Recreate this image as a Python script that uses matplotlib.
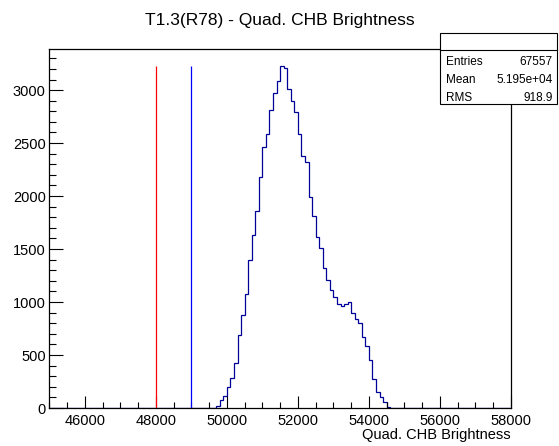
import numpy as np
import matplotlib
matplotlib.use("Agg")
import matplotlib.pyplot as plt
from matplotlib.patches import Rectangle
from matplotlib.ticker import MultipleLocator

plt.rcParams['font.family'] = ['Liberation Sans', 'DejaVu Sans']

# histogram: 100-wide bins from 45000 to 58000, non-empty part starts at 49600
x_min, x_max, bin_width = 45000, 58000, 100
first_bin = 49600
counts = [3, 22, 75, 116, 201, 286, 427, 689, 877, 1073,
          1396, 1635, 1862, 2176, 2465, 2585, 2811, 2975, 3088, 3224,
          3206, 3006, 2899, 2796, 2585, 2377, 2324, 1994, 1808, 1616,
          1512, 1324, 1208, 1113, 1044, 978, 965, 978, 1001, 893,
          842, 799, 673, 585, 453, 271, 154, 107, 60, 13, 3]

cut_red = 48000
cut_blue = 49000

title = "T1.3(R78) - Quad. CHB Brightness"
xlabel = "Quad. CHB Brightness"
stats_names = ["Entries", "Mean", "RMS"]
stats_values = ["67557", "5.195e+04", "918.9"]

edges = np.arange(x_min, x_max + bin_width, bin_width)
values = np.zeros(len(edges) - 1)
i0 = (first_bin - x_min) // bin_width
values[i0:i0 + len(counts)] = counts
hmax = max(counts)

fig = plt.figure(figsize=(5.59, 4.46), dpi=100)
ax = fig.add_axes([0.0882, 0.0852, 0.9141 - 0.0882, 0.8895 - 0.0852])

ax.stairs(values, edges, color='#000099', lw=0.9)
ax.vlines(cut_red, 0, hmax, color='#ff0000', lw=0.9)
ax.vlines(cut_blue, 0, hmax, color='#0000ff', lw=0.9)

ax.set_xlim(x_min, x_max)
ax.set_ylim(0, hmax * 1.05)

ax.xaxis.set_major_locator(MultipleLocator(2000))
ax.xaxis.set_minor_locator(MultipleLocator(500))
ax.yaxis.set_major_locator(MultipleLocator(500))
ax.yaxis.set_minor_locator(MultipleLocator(100))
ax.tick_params(axis='both', which='both', direction='in', top=False, right=False,
               width=0.8, labelsize=10.5)
ax.tick_params(axis='y', which='major', length=10, pad=2.5)
ax.tick_params(axis='y', which='minor', length=5)
ax.tick_params(axis='x', which='major', length=9, pad=4)
ax.tick_params(axis='x', which='minor', length=4.5)
for s in ax.spines.values():
    s.set_linewidth(0.9)

fig.text(280 / 559, 1 - 20 / 446, title, ha='center', va='center', fontsize=12.5)
fig.text(511 / 559, 1 - 435 / 446, xlabel, ha='right', va='center', fontsize=10.5)

# stats box
bx0, bx1 = 440 / 559, 557 / 559
by0, by1 = 1 - 104 / 446, 1 - 33 / 446
fig.patches.append(Rectangle((bx0, by0), bx1 - bx0, by1 - by0, transform=fig.transFigure,
                             facecolor='white', edgecolor='black', lw=0.8, zorder=5))
fig.lines.append(plt.Line2D([bx0, bx1], [1 - 50 / 446] * 2, transform=fig.transFigure,
                            color='black', lw=0.8, zorder=6))
for k, (n, v) in enumerate(zip(stats_names, stats_values)):
    yy = 1 - (62 + 17.8 * k) / 446
    fig.text(446 / 559, yy, n, ha='left', va='center', fontsize=8.5, zorder=7)
    fig.text(553 / 559, yy, v, ha='right', va='center', fontsize=8.5, zorder=7)

fig.savefig("out.png", dpi=100)
